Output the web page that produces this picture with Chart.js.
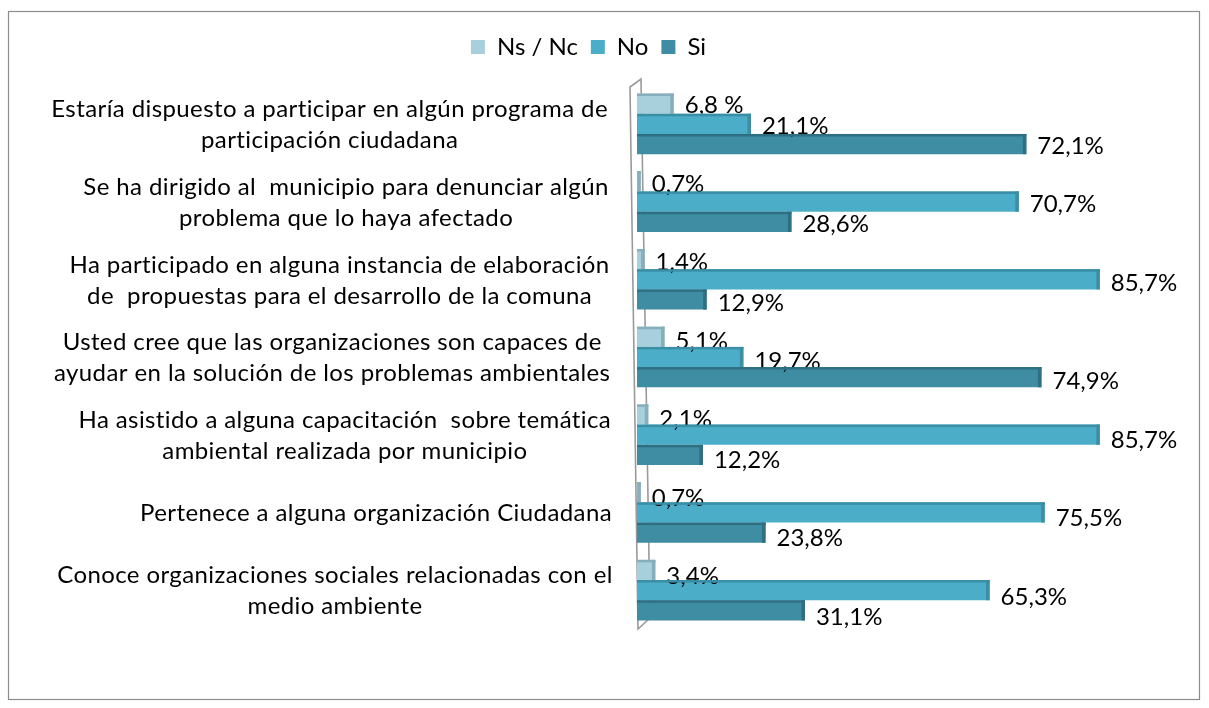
<!DOCTYPE html>
<html>
<head>
<meta charset="utf-8">
<script src="https://cdn.jsdelivr.net/npm/chart.js@4/dist/chart.umd.min.js"></script>
<style>
  html, body { margin: 0; padding: 0; background: #fff; }
  #wrap { width: 1209px; height: 708px; }
</style>
</head>
<body>
<div id="wrap"><canvas id="chart" width="1209" height="708"></canvas></div>
<script>
const categories = [
  ["Estaría dispuesto a participar en algún programa de", "participación ciudadana"],
  ["Se ha dirigido al  municipio para denunciar algún", "problema que lo haya afectado"],
  ["Ha participado en alguna instancia de elaboración", "de  propuestas para el desarrollo de la comuna"],
  ["Usted cree que las organizaciones son capaces de", "ayudar en la solución de los problemas ambientales"],
  ["Ha asistido a alguna capacitación  sobre temática", "ambiental realizada por municipio"],
  ["Pertenece a alguna organización Ciudadana"],
  ["Conoce organizaciones sociales relacionadas con el", "medio ambiente"]
];
const nsnc = [6.8, 0.7, 1.4, 5.1, 2.1, 0.7, 3.4];
const no = [21.1, 70.7, 85.7, 19.7, 85.7, 75.5, 65.3];
const si = [72.1, 28.6, 12.9, 74.9, 12.2, 23.8, 31.1];
const nsncText = ["6,8 %", "0,7%", "1,4%", "5,1%", "2,1%", "0,7%", "3,4%"];
const noText = ["21,1%", "70,7%", "85,7%", "19,7%", "85,7%", "75,5%", "65,3%"];
const siText = ["72,1%", "28,6%", "12,9%", "74,9%", "12,2%", "23,8%", "31,1%"];

const FONT = "Lato, 'Open Sans', sans-serif";
const faceColors = ["#A8D0DC", "#4BADC8", "#3E8DA3"];
const edgeColors = ["#86AEBB", "#3A8EA6", "#2E6F83"];
const valueTexts = [nsncText, noText, siText];

// 3D-ish wall, bar edges, value labels, category labels and outer frame
const decor = {
  id: "decor",
  beforeInit(chart) {
    const legend = chart.legend;
    const fit = legend.fit;
    legend.fit = function () {
      fit.call(this);
      this.height += 16;
    };
  },
  beforeDatasetsDraw(chart) {
    const { ctx, chartArea: a } = chart;
    const L = a.left;
    ctx.save();
    ctx.strokeStyle = "#9a9a9a";
    ctx.lineWidth = 1.6;
    ctx.beginPath();
    ctx.moveTo(L - 7, a.top + 2);
    ctx.lineTo(L + 1, a.bottom);
    ctx.lineTo(L + 13, a.bottom - 11);
    ctx.lineTo(L + 4, a.top - 6);
    ctx.closePath();
    ctx.stroke();
    ctx.restore();
  },
  afterDatasetsDraw(chart) {
    const { ctx, chartArea: a } = chart;
    ctx.save();
    chart.data.datasets.forEach((ds, di) => {
      const meta = chart.getDatasetMeta(di);
      meta.data.forEach((bar, i) => {
        const h = bar.height;
        const top = bar.y - h / 2;
        ctx.fillStyle = edgeColors[di];
        ctx.fillRect(bar.base, top, bar.x - bar.base, 2.5);
        ctx.fillRect(bar.x - 3.5, top, 3.5, h);
        ctx.fillStyle = "#000";
        ctx.font = "24px " + FONT;
        ctx.textAlign = "left";
        ctx.textBaseline = "middle";
        ctx.fillText(valueTexts[di][i], bar.x + 11, bar.y + 2 + i * 0.8);
      });
    });

    // category labels: right-aligned block, each line centred in it
    const yScale = chart.scales.y;
    ctx.font = "24px " + FONT;
    ctx.letterSpacing = "0.4px";
    ctx.fillStyle = "#000";
    ctx.textAlign = "center";
    ctx.textBaseline = "middle";
    categories.forEach((lines, i) => {
      const cy = yScale.getPixelForValue(i);
      const w = Math.max(...lines.map(l => ctx.measureText(l).width));
      const right = a.left - 29 + i * 0.8;
      const cx = right - w / 2;
      const lh = 31;
      lines.forEach((l, k) => {
        ctx.fillText(l, cx, cy + 1 + (k - (lines.length - 1) / 2) * lh);
      });
    });
    ctx.letterSpacing = "0px";

    ctx.strokeStyle = "#8c8c8c";
    ctx.lineWidth = 1.2;
    ctx.strokeRect(8.5, 11.5, 1191, 688);
    ctx.restore();
  }
};

new Chart(document.getElementById("chart"), {
  type: "bar",
  data: {
    labels: categories,
    datasets: [
      { label: "Ns / Nc", data: nsnc, backgroundColor: faceColors[0] },
      { label: "No", data: no, backgroundColor: faceColors[1] },
      { label: "Si", data: si, backgroundColor: faceColors[2] }
    ]
  },
  options: {
    indexAxis: "y",
    responsive: false,
    animation: false,
    categoryPercentage: 0.78,
    barPercentage: 1,
    layout: { padding: { left: 0, right: 32, top: 22, bottom: 79 } },
    scales: {
      x: { display: false, min: 0, max: 100 },
      y: {
        grid: { display: false },
        border: { display: false },
        ticks: { display: false },
        afterFit(scale) { scale.width = 637; }
      }
    },
    plugins: {
      legend: {
        position: "top",
        labels: {
          boxWidth: 14,
          boxHeight: 14,
          padding: 13,
          color: "#000",
          font: { family: FONT, size: 24 }
        }
      },
      tooltip: { enabled: false }
    }
  },
  plugins: [decor]
});
</script>
</body>
</html>
